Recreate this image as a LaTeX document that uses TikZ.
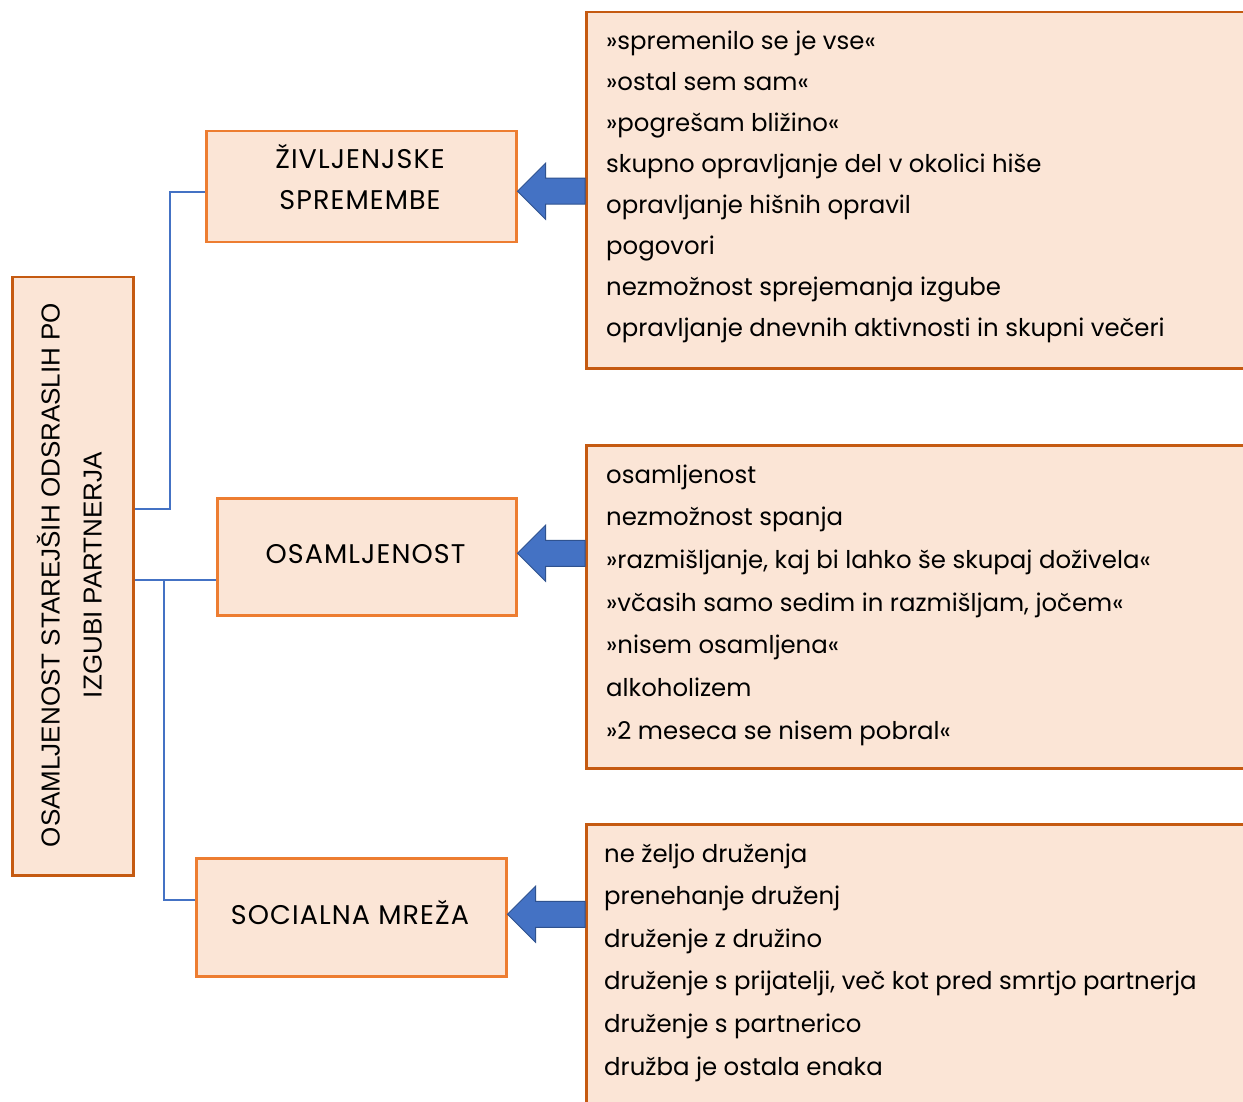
\documentclass[tikz,border=0pt]{standalone}
\usepackage{fontspec}
\setmainfont{Poppins}
\newfontfamily\arialfont{Liberation Sans}
\newfontfamily\capsfont[LetterSpace=4]{Poppins}
\usetikzlibrary{calc}

\definecolor{boxfill}{HTML}{FBE5D6}
\definecolor{darkorange}{HTML}{C55A11}
\definecolor{lightorange}{HTML}{ED7D31}
\definecolor{linkblue}{HTML}{4472C4}
\definecolor{arrowedge}{HTML}{2F528F}

\tikzset{
  rootbox/.style={draw=darkorange, line width=2.5pt, fill=boxfill, anchor=north west, inner sep=0pt},
  themebox/.style={draw=lightorange, line width=2.5pt, fill=boxfill, anchor=north west, inner sep=0pt},
  listbox/.style={draw=darkorange, line width=2.5pt, fill=boxfill, anchor=north west, inner sep=0pt},
  themetext/.style={anchor=base, inner sep=0pt, font=\capsfont\fontsize{27}{41}\selectfont},
  itemtext/.style={anchor=base west, inner sep=0pt, font=\fontsize{24.4}{41}\selectfont},
  link/.style={draw=linkblue, line width=2.5pt},
  barrow/.style={fill=linkblue, draw=arrowedge, line width=1pt, line join=miter},
}

% left-pointing block arrow from the list box (#2) to the theme box (#1),
% its axis shifted by #3 from the theme box centre
\newcommand\blockarrow[3]{%
  \draw[barrow] let \p1=([yshift=#3]#1.east), \p2=(#2.west) in
    (\x1,\y1) -- (\x1+28,\y1+28) -- (\x1+28,\y1+13) -- (\x2,\y1+13)
    -- (\x2,\y1-13) -- (\x1+28,\y1-13) -- (\x1+28,\y1-28) -- cycle;}

\begin{document}
\begin{tikzpicture}[x=1pt, y=-1pt]
\clip (0,0) rectangle (1243,1102);
\fill[white] (0,0) rectangle (1243,1102);

% root box with rotated title
\node[rootbox, minimum width=121pt, minimum height=598pt] (root) at (11,276) {};
\node[rotate=90, align=center, inner sep=0pt, font=\arialfont\fontsize{26}{42}\selectfont]
  (roottext) at (69.5,575) {OSAMLJENOST STAREJŠIH ODSRASLIH PO\\IZGUBI PARTNERJA};

% theme boxes
\node[themebox, minimum width=310pt, minimum height=111pt] (t1) at (205,130) {};
\node[themebox, minimum width=299pt, minimum height=117pt] (t2) at (216,497) {};
\node[themebox, minimum width=310pt, minimum height=118pt] (t3) at (195,857) {};
\node[themetext] (t1a) at (360,168.5) {ŽIVLJENJSKE};
\node[themetext] (t1b) at (360,209.5) {SPREMEMBE};
\node[themetext] (t2a) at (365.5,563.5) {OSAMLJENOST};
\node[themetext] (t3a) at (350,924.5) {SOCIALNA MREŽA};

% list boxes (running past the right and bottom edges)
\node[listbox, minimum width=700pt, minimum height=356pt] (r1) at (585,11) {};
\node[listbox, minimum width=700pt, minimum height=323pt] (r2) at (585,444) {};
\node[listbox, minimum width=700pt, minimum height=330pt] (r3) at (585,823) {};

\foreach \txt [count=\i from 0] in {%
  »spremenilo se je vse«, »ostal sem sam«, »pogrešam bližino«,
  skupno opravljanje del v okolici hiše, opravljanje hišnih opravil,
  pogovori, nezmožnost sprejemanja izgube,
  opravljanje dnevnih aktivnosti in skupni večeri}
  \node[itemtext] (r1-\i) at (606,49.5+41*\i) {\txt};

\foreach \txt [count=\i from 0] in {%
  osamljenost, nezmožnost spanja,
  {»razmišljanje, kaj bi lahko še skupaj doživela«},
  {»včasih samo sedim in razmišljam, jočem«},
  »nisem osamljena«, alkoholizem, »2 meseca se nisem pobral«}
  \node[itemtext] (r2-\i) at (606,483+42.7*\i) {\txt};

\foreach \txt [count=\i from 0] in {%
  ne željo druženja, prenehanje druženj, druženje z družino,
  {druženje s prijatelji, več kot pred smrtjo partnerja},
  druženje s partnerico, družba je ostala enaka}
  \node[itemtext] (r3-\i) at (604,862+42.6*\i) {\txt};

% tree connectors
\coordinate (j1) at (170,509);
\coordinate (j2) at (164,580);
\coordinate (e1) at (0,192);
\coordinate (e3) at (0,900);
\draw[link] (root.east |- j1) -- (j1) |- (t1.west |- e1);
\draw[link] (root.east |- j2) -- (t2.west |- j2);
\draw[link] (j2) |- (t3.west |- e3);

% block arrows
\blockarrow{t1}{r1}{-4.5pt}
\blockarrow{t2}{r2}{3.5pt}
\blockarrow{t3}{r3}{3pt}
\end{tikzpicture}
\end{document}
